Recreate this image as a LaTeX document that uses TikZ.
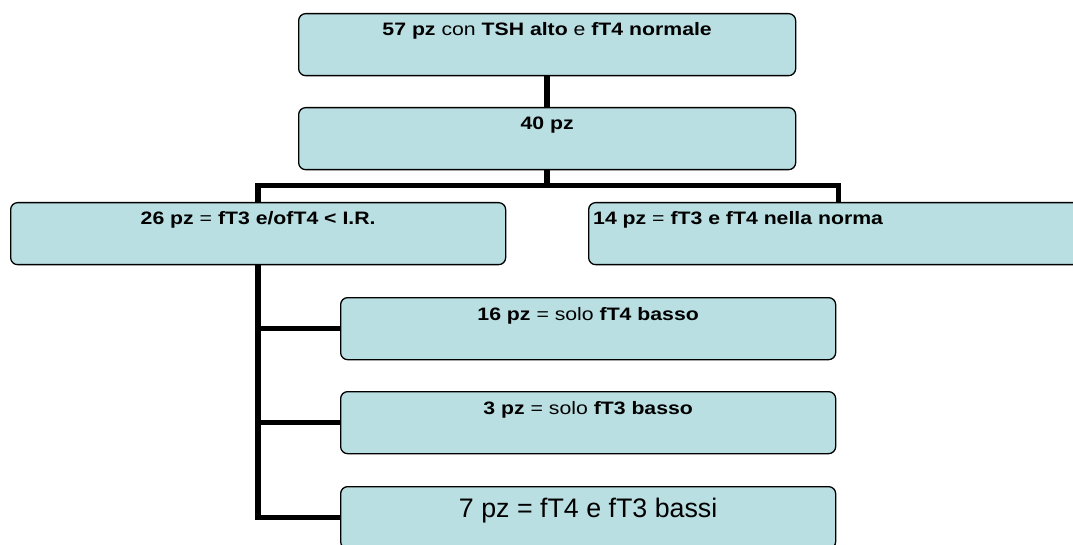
\documentclass[tikz,border=0pt]{standalone}
\usepackage{fontspec}
\setmainfont{Liberation Sans}
\newfontfamily\wideface{Liberation Sans}[FakeStretch=1.18]
\begin{document}
\begin{tikzpicture}[x=1pt,y=-1pt,
  box/.style={draw=black,line width=1.3pt,fill=boxfill,rounded corners=7pt,minimum width=#1,minimum height=62pt,inner sep=0pt,anchor=north west},
  box/.default=497pt,
  txt/.style={font=\wideface\fontsize{18}{21}\selectfont,anchor=base,inner sep=0pt},
  conn/.style={draw=black,line width=5.5pt}]
\definecolor{boxfill}{HTML}{B9DFE2}
\useasboundingbox (0,0) rectangle (1073,545);
\clip (0,0) rectangle (1073,545);
\node[box] (b1) at (298,13) {};
\node[box] (b2) at (298,107) {};
\node[box=495pt] (b26) at (10,202) {};
\node[box=500pt] (b14) at (588,202) {};
\node[box=495pt] (b16) at (340,297) {};
\node[box=495pt] (b3) at (340,391) {};
\node[box=495pt] (b7) at (340,486) {};
% texts
\node[txt] (t1) at ([yshift=-23pt]b1.north) {\textbf{57 pz} con \textbf{TSH alto} e \textbf{fT4 normale}};
\node[txt] (t2) at ([yshift=-23pt]b2.north) {\textbf{40 pz}};
\node[txt] (t26) at ([yshift=-23pt]b26.north) {\textbf{26 pz} = \textbf{fT3 e/ofT4 < I.R.}};
\node[txt,anchor=base west] (t14) at ([xshift=5pt,yshift=-23pt]b14.north west) {\textbf{14 pz} = \textbf{fT3 e fT4 nella norma}};
\node[txt] (t16) at ([yshift=-23pt]b16.north) {\textbf{16 pz} = solo \textbf{fT4 basso}};
\node[txt] (t3) at ([yshift=-23pt]b3.north) {\textbf{3 pz} = solo \textbf{fT3 basso}};
\node[font=\fontsize{26.8}{30}\selectfont,anchor=base,inner sep=0pt] (t7) at ([yshift=-31pt]b7.north) {7 pz = fT4 e fT3 bassi};
% connectors
\draw[conn] (b1.south) -- (b2.north);
\draw[conn] (b2.south) -- ++(0,15) coordinate (j);
\draw[conn] (b26.north) |- (j) -| (b14.north);
\draw[conn] (b26.south) |- (b16.west);
\draw[conn] (b26.south) |- (b3.west);
\draw[conn] (b26.south) |- (b7.west);
\end{tikzpicture}
\end{document}
